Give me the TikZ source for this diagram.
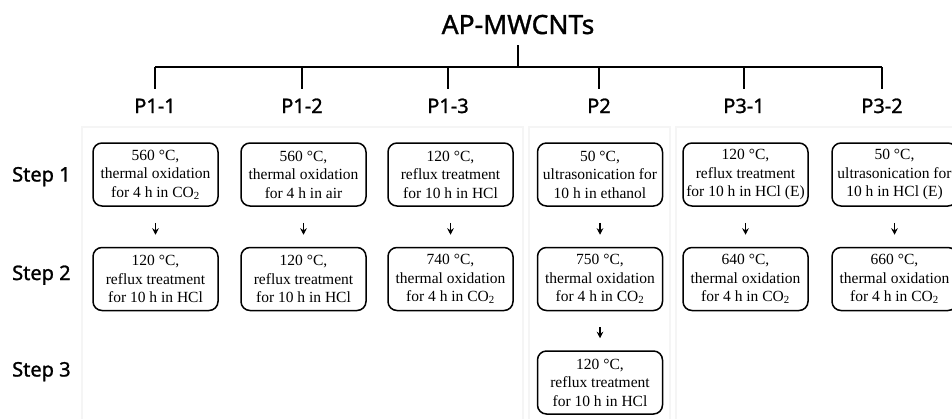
\documentclass[tikz,border=0pt]{standalone}
\usepackage{fontspec}
\setmainfont{Liberation Serif}
\newfontfamily\labfont[FakeBold=1.2]{Noto Sans}
\usetikzlibrary{arrows.meta}
\begin{document}
\begin{tikzpicture}[x=1pt,y=-1pt,
  procbox/.style={draw, line width=1.5pt, rounded corners=9pt, minimum width=125pt, minimum height=63pt,
    inner sep=0pt, align=center, font=\fontsize{15.5}{18.5}\selectfont},
  plabel/.style={anchor=base, font=\labfont\fontsize{20}{24}\selectfont, inner xsep=0pt, inner ysep=10pt, text height=14.3pt, text depth=0pt},
  steplabel/.style={anchor=base west, font=\labfont\fontsize{20}{24}\selectfont, inner sep=0pt},
  tree/.style={line width=1.4pt},
  flow/.style={line width=1.5pt, -{Stealth[length=6.5pt,width=6.5pt]}, shorten <=16pt, shorten >=12pt},
  panel/.style={draw=black!4, line width=1.5pt}
]
\useasboundingbox (0,0) rectangle (952,418);
\clip (0,0) rectangle (952,418);

% faint panels
\draw[panel] (82,127) rectangle (523,430);
\draw[panel] (529,127) rectangle (670,430);
\draw[panel] (676,127) rectangle (970,430);

% title and tree
\node[anchor=base, font=\labfont\fontsize{26.5}{30}\selectfont, inner xsep=0pt, inner ysep=11pt, text height=18pt, text depth=0pt] (title) at (518,34) {AP-MWCNTs};
\coordinate (b0) at (518,67);
\coordinate (b1) at (155,67);
\coordinate (b2) at (302,67);
\coordinate (b3) at (448,67);
\coordinate (b4) at (599,67);
\coordinate (b5) at (744,67);
\coordinate (b6) at (882,67);

\node[plabel] (p11) at (155,113) {P1-1};
\node[plabel] (p12) at (302,113) {P1-2};
\node[plabel] (p13) at (448,113) {P1-3};
\node[plabel] (p2)  at (599,113) {P2};
\node[plabel] (p31) at (744,113) {P3-1};
\node[plabel] (p32) at (882,113) {P3-2};

\draw[tree] (title.south) -- (b0);
\draw[tree] (b1) -- (b6);
\draw[tree] (b1) -- (p11.north);
\draw[tree] (b2) -- (p12.north);
\draw[tree] (b3) -- (p13.north);
\draw[tree] (b4) -- (p2.north);
\draw[tree] (b5) -- (p31.north);
\draw[tree] (b6) -- (p32.north);

% step labels
\node[steplabel] (s1) at (12,181.5) {Step 1};
\node[steplabel] (s2) at (12,280) {Step 2};
\node[steplabel] (s3) at (12,376.5) {Step 3};

% boxes
\node[procbox] (a1) at (155.5,174.5) {560 °C,\\thermal oxidation\\for 4 h in CO\textsubscript{2}};
\node[procbox] (a2) at (155.5,279) {120 °C,\\reflux treatment\\for 10 h in HCl};
\node[procbox] (c1) at (303.5,174.5) {560 °C,\\thermal oxidation\\for 4 h in air};
\node[procbox] (c2) at (303.5,279) {120 °C,\\reflux treatment\\for 10 h in HCl};
\node[procbox] (d1) at (450.5,174.5) {120 °C,\\reflux treatment\\for 10 h in HCl};
\node[procbox] (d2) at (450.5,279) {740 °C,\\thermal oxidation\\for 4 h in CO\textsubscript{2}};
\node[procbox] (e1) at (600,174.5) {50 °C,\\ultrasonication for\\10 h in ethanol};
\node[procbox] (e2) at (600,279) {750 °C,\\thermal oxidation\\for 4 h in CO\textsubscript{2}};
\node[procbox] (e3) at (600,382.5) {120 °C,\\reflux treatment\\for 10 h in HCl};
\node[procbox] (f1) at (745.5,174.5) {120 °C,\\reflux treatment\\for 10 h in HCl (E)};
\node[procbox] (f2) at (745.5,279) {640 °C,\\thermal oxidation\\for 4 h in CO\textsubscript{2}};
\node[procbox] (g1) at (894.5,174.5) {50 °C,\\ultrasonication for\\10 h in HCl (E)};
\node[procbox] (g2) at (894.5,279) {660 °C,\\thermal oxidation\\for 4 h in CO\textsubscript{2}};

% arrows
\draw[flow] (a1.south) -- (a2.north);
\draw[flow] (c1.south) -- (c2.north);
\draw[flow] (d1.south) -- (d2.north);
\draw[flow] (e1.south) -- (e2.north);
\draw[flow] (e2.south) -- (e3.north);
\draw[flow] (f1.south) -- (f2.north);
\draw[flow] (g1.south) -- (g2.north);
\end{tikzpicture}
\end{document}
